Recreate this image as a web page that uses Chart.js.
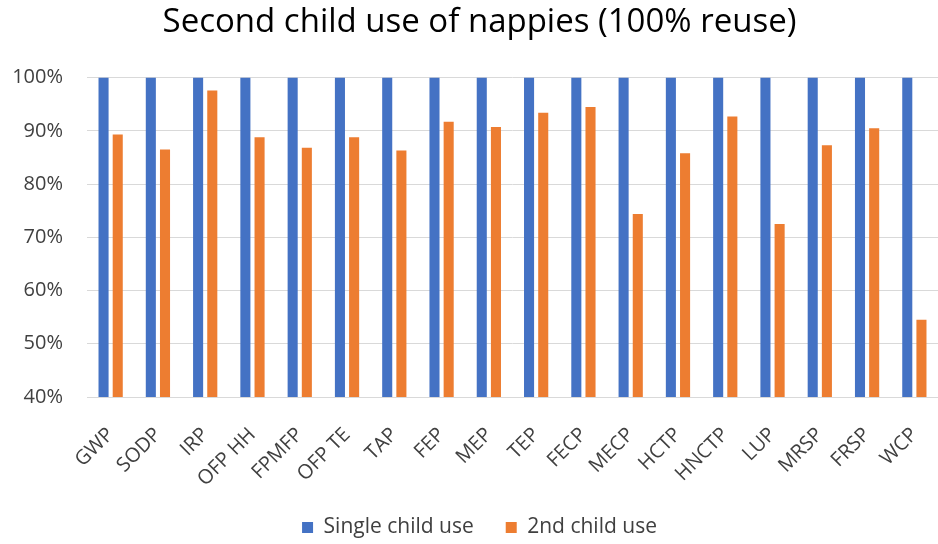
<!DOCTYPE html>
<html>
<head>
<meta charset="utf-8">
<script src="https://cdn.jsdelivr.net/npm/chart.js@4/dist/chart.umd.min.js"></script>
<style>
  html, body { margin: 0; padding: 0; background: #ffffff; overflow: hidden; }
  #wrap { width: 938px; height: 544px; }
</style>
</head>
<body>
<div id="wrap"><canvas id="chart" width="938" height="544"></canvas></div>
<script>
// Impact categories on the x axis
const categories = ["GWP", "SODP", "IRP", "OFP HH", "FPMFP", "OFP TE", "TAP", "FEP", "MEP",
                    "TEP", "FECP", "MECP", "HCTP", "HNCTP", "LUP", "MRSP", "FRSP", "WCP"];

// Relative impact (%) of nappy use for a single child (baseline)
const singleChildUse = [100, 100, 100, 100, 100, 100, 100, 100, 100,
                        100, 100, 100, 100, 100, 100, 100, 100, 100];

// Relative impact (%) when the nappies are reused for a second child
const secondChildUse = [89.3, 86.5, 97.6, 88.8, 86.8, 88.8, 86.3, 91.7, 90.7,
                        93.4, 94.5, 74.4, 85.8, 92.7, 72.5, 87.3, 90.5, 54.5];

// Value axis ticks (%)
const yTicks = [40, 50, 60, 70, 80, 90, 100];

const FONT = "'Open Sans', 'Noto Sans', sans-serif";
const GRID = "#d9d9d9";
const TEXT = "#404040";

new Chart(document.getElementById("chart"), {
  type: "bar",
  data: {
    labels: categories,
    datasets: [
      {
        label: "Single child use",
        data: singleChildUse,
        backgroundColor: "#4472C4",
        categoryPercentage: 0.6,
        barPercentage: 0.71
      },
      {
        label: "2nd child use",
        data: secondChildUse,
        backgroundColor: "#ED7D31",
        categoryPercentage: 0.6,
        barPercentage: 0.71
      }
    ]
  },
  options: {
    responsive: false,
    animation: false,
    // the plot runs slightly past the right edge of the canvas
    layout: { padding: { left: 10, right: -11, top: 0, bottom: -4 } },
    plugins: {
      title: {
        display: true,
        text: "Second child use of nappies (100% reuse)",
        color: "#000000",
        font: { family: FONT, size: 33, weight: "normal" },
        padding: { top: 3, bottom: 35 }
      },
      legend: {
        position: "bottom",
        labels: {
          color: TEXT,
          font: { family: FONT, size: 21 },
          boxWidth: 11,
          boxHeight: 11,
          padding: 32
        }
      },
      tooltip: { enabled: false }
    },
    scales: {
      x: {
        grid: { display: false, drawTicks: false },
        border: { display: true, color: GRID, width: 1 },
        ticks: {
          color: TEXT,
          font: { family: FONT, size: 20 },
          minRotation: 45,
          maxRotation: 45,
          padding: 26,
          autoSkip: false
        },
        afterFit: (axis) => {
          axis.height = 88;
          axis.paddingLeft = 0;
          axis.paddingRight = 0;
        }
      },
      y: {
        min: yTicks[0],
        max: yTicks[yTicks.length - 1],
        afterBuildTicks: (axis) => { axis.ticks = yTicks.map(v => ({ value: v })); },
        afterFit: (axis) => { axis.width = 77; },
        grid: { color: GRID, lineWidth: 1, drawTicks: false },
        border: { display: false },
        ticks: {
          color: TEXT,
          font: { family: FONT, size: 20 },
          padding: 24,
          callback: (v) => v + "%"
        }
      }
    }
  }
});
</script>
</body>
</html>
